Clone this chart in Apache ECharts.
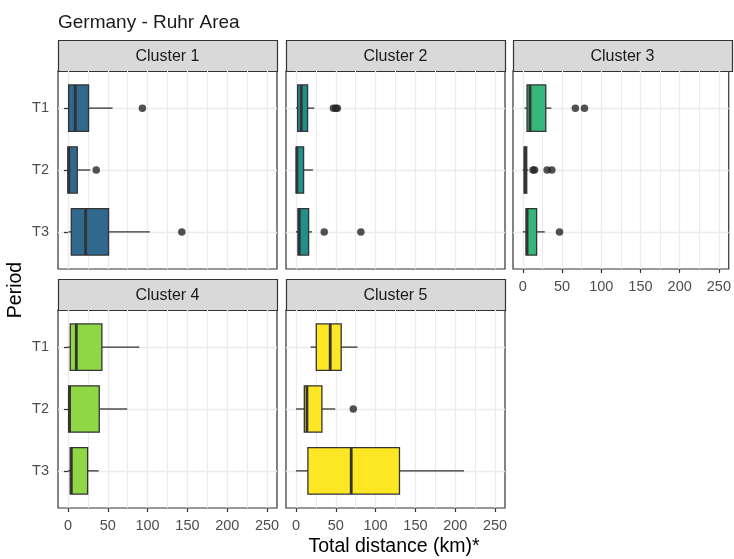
<!DOCTYPE html>
<html>
<head>
<meta charset="utf-8">
<script src="https://cdn.jsdelivr.net/npm/echarts@6/dist/echarts.min.js"></script>
<style>html,body{margin:0;padding:0;background:#fff}#c{width:734px;height:559px}</style>
</head>
<body>
<div id="c"></div>
<script>
const periods = ['T1', 'T2', 'T3'];
const clusterNames = ['Cluster 1', 'Cluster 2', 'Cluster 3', 'Cluster 4', 'Cluster 5'];
const clusterColors = ['#31688E', '#21908C', '#35B779', '#8FD744', '#FDE725'];
const xTicks = [0, 50, 100, 150, 200, 250];
const xMinorTicks = [25, 75, 125, 175, 225];

// [min, Q1, median, Q3, max] for T1, T2, T3
const cluster1Box = [[0, 0.8, 9.2, 25.9, 56], [0, 0, 1, 11.7, 28], [0.8, 4.2, 22.2, 51, 102.8]];
const cluster2Box = [[0, 2.1, 6.7, 14.6, 23], [0, 0.4, 1.2, 9.6, 21.3], [0, 2.5, 4.2, 15.9, 20]];
const cluster3Box = [[2.1, 5.4, 9.2, 29.3, 36.4], [0, 1.7, 3, 5, 7], [0, 4.2, 5.4, 17.6, 28]];
const cluster4Box = [[0, 2.9, 10.5, 42.6, 89.5], [0, 0.8, 2, 39.3, 74.4], [0, 2.9, 4.2, 24.7, 38.5]];
const cluster5Box = [[18.4, 25.5, 43, 56.8, 77.3], [0, 10.5, 13.8, 32.6, 49.3], [0, 15, 69.4, 130, 211]];

// outliers for T1, T2, T3
const cluster1Out = [[93.5], [35.5], [143]];
const cluster2Out = [[47, 50, 52], [], [35.5, 81.5]];
const cluster3Out = [[67, 78.6], [13, 15, 31, 37], [46.8]];
const cluster4Out = [[], [], []];
const cluster5Out = [[], [72], []];

const boxes = [cluster1Box, cluster2Box, cluster3Box, cluster4Box, cluster5Box];
const outs = [cluster1Out, cluster2Out, cluster3Out, cluster4Out, cluster5Out];

const FONT = '"Liberation Sans", Arial, sans-serif';
const colLeft = [58, 286, 513];
const panelW = 219;
const stripTop = [40, 279];
const gridTop = [71, 310];
const gridH = 198;
const stripH = 31;

const grids = [], xAxes = [], yAxes = [], series = [], graphics = [];

clusterNames.forEach((name, i) => {
  const row = i < 3 ? 0 : 1;
  const col = i < 3 ? i : i - 3;
  const left = colLeft[col];
  const showX = (i >= 2);
  const showY = (col === 0);
  grids.push({left: left, top: gridTop[row], width: panelW, height: gridH,
    show: true, borderColor: '#333333', borderWidth: 1.2, backgroundColor: '#fff'});
  xAxes.push({type: 'value', gridIndex: i, min: -12.5, max: 262.5, position: 'bottom',
    axisLine: {show: false},
    axisTick: {show: showX, length: 4, customValues: xTicks, lineStyle: {color: '#333333', width: 1.2}},
    axisLabel: {show: showX, customValues: xTicks, margin: 10, color: '#4D4D4D', fontSize: 14.5, fontFamily: FONT},
    splitLine: {show: true, lineStyle: {color: '#EBEBEB', width: 1.3}}});
  xAxes.push({type: 'value', gridIndex: i, min: -12.5, max: 262.5, position: 'top',
    axisLine: {show: false},
    axisTick: {show: false, customValues: xMinorTicks},
    axisLabel: {show: false, customValues: xMinorTicks},
    splitLine: {show: true, lineStyle: {color: '#EBEBEB', width: 1}}});
  yAxes.push({type: 'value', gridIndex: i, min: 0.4, max: 3.6, inverse: true,
    axisLine: {show: false},
    axisTick: {show: showY, length: 4, customValues: [1, 2, 3], lineStyle: {color: '#333333', width: 1.2}},
    axisLabel: {show: showY, customValues: [1, 2, 3], margin: 9, color: '#4D4D4D', fontSize: 14.5, fontFamily: FONT,
      formatter: v => periods[Math.round(v) - 1] || ''},
    splitLine: {show: true, lineStyle: {color: '#EBEBEB', width: 1.3}}});

  const color = clusterColors[i];
  series.push({
    type: 'custom', xAxisIndex: 2 * i, yAxisIndex: i,
    encode: {x: [1, 2, 3, 4, 5], y: 0},
    data: boxes[i].map((b, k) => [k + 1].concat(b)),
    renderItem: (params, api) => {
      const y = api.value(0);
      const pMin = api.coord([api.value(1), y]);
      const pQ1 = api.coord([api.value(2), y]);
      const pMd = api.coord([api.value(3), y]);
      const pQ3 = api.coord([api.value(4), y]);
      const pMax = api.coord([api.value(5), y]);
      const h = api.size([0, 0.75])[1];
      const cy = pQ1[1];
      return {type: 'group', children: [
        {type: 'line', shape: {x1: pMin[0], y1: cy, x2: pQ1[0], y2: cy}, style: {stroke: '#333333', lineWidth: 1.3}},
        {type: 'line', shape: {x1: pQ3[0], y1: cy, x2: pMax[0], y2: cy}, style: {stroke: '#333333', lineWidth: 1.3}},
        {type: 'rect', shape: {x: pQ1[0], y: cy - h / 2, width: pQ3[0] - pQ1[0], height: h},
          style: {fill: color, stroke: '#333333', lineWidth: 1.3}},
        {type: 'line', shape: {x1: pMd[0], y1: cy - h / 2, x2: pMd[0], y2: cy + h / 2}, style: {stroke: '#333333', lineWidth: 2.8}}
      ]};
    }
  });
  const pts = [];
  outs[i].forEach((arr, k) => arr.forEach(v => pts.push([v, k + 1])));
  series.push({type: 'scatter', xAxisIndex: 2 * i, yAxisIndex: i, data: pts,
    symbol: 'circle', symbolSize: 7.5, itemStyle: {color: '#262626'}, z: 5, silent: true});

  graphics.push({type: 'rect', shape: {x: left + 0.5, y: stripTop[row] + 0.5, width: panelW, height: stripH},
    style: {fill: '#D9D9D9', stroke: '#333333', lineWidth: 1.2}});
  graphics.push({type: 'text', x: left + panelW / 2, y: stripTop[row] + stripH / 2 + 1,
    style: {text: name, font: '16px ' + FONT, fill: '#1A1A1A', align: 'center', verticalAlign: 'middle',
      textAlign: 'center', textVerticalAlign: 'middle'}});
});

graphics.push({type: 'text', x: 394, y: 547,
  style: {text: 'Total distance (km)*', font: '19.5px ' + FONT, fill: '#000000', align: 'center', verticalAlign: 'middle',
    textAlign: 'center', textVerticalAlign: 'middle'}});
graphics.push({type: 'text', x: 16, y: 290, rotation: Math.PI / 2,
  style: {text: 'Period', font: '19.5px ' + FONT, fill: '#000000', align: 'center', verticalAlign: 'middle',
    textAlign: 'center', textVerticalAlign: 'middle'}});

const chart = echarts.init(document.getElementById('c'), null, {renderer: 'canvas'});
chart.setOption({
  animation: false,
  backgroundColor: '#ffffff',
  title: {text: 'Germany - Ruhr Area', left: 53, top: 8,
    textStyle: {fontSize: 19, fontWeight: 'normal', color: '#1A1A1A', fontFamily: FONT}},
  grid: grids, xAxis: xAxes, yAxis: yAxes, series: series, graphic: graphics
});
</script>
</body>
</html>
